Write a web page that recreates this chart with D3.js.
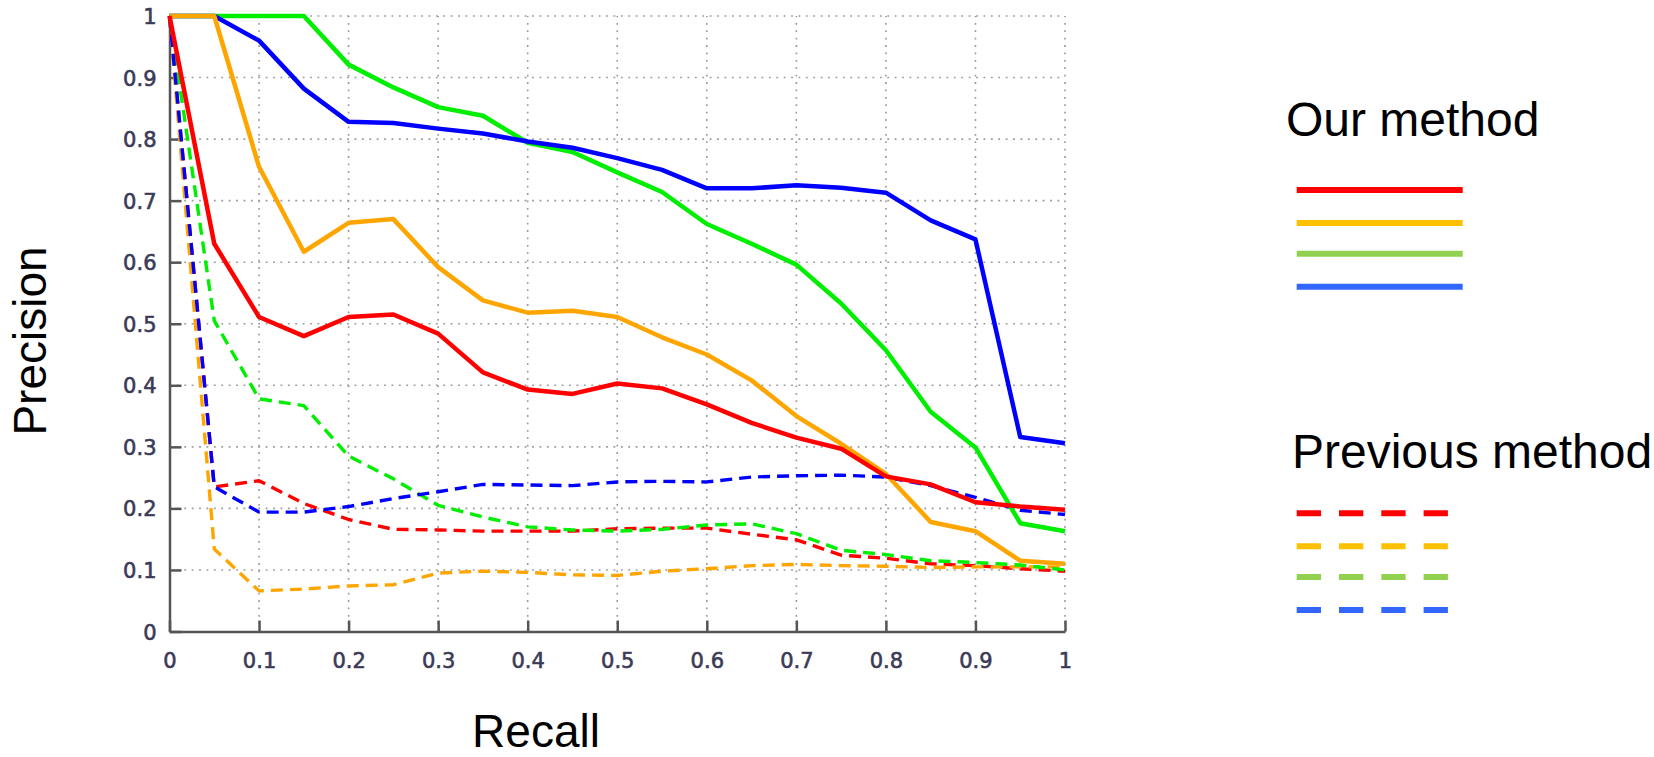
<!DOCTYPE html>
<html>
<head>
<meta charset="utf-8">
<script src="https://cdn.jsdelivr.net/npm/d3@7"></script>
<style>
  html, body { margin: 0; padding: 0; background: #fff; }
  svg { display: block; }
</style>
</head>
<body>
<svg id="chart" width="1654" height="757"></svg>
<script>
// Recall sample points shared by all curves
const recall = [0, 0.05, 0.1, 0.15, 0.2, 0.25, 0.3, 0.35, 0.4, 0.45, 0.5,
                0.55, 0.6, 0.65, 0.7, 0.75, 0.8, 0.85, 0.9, 0.95, 1];

// Our method (solid curves)
const oursRed    = [1, 0.630, 0.511, 0.480, 0.511, 0.515, 0.484, 0.421, 0.393, 0.386, 0.403,
                    0.395, 0.369, 0.339, 0.315, 0.297, 0.252, 0.239, 0.210, 0.203, 0.198];
const oursOrange = [1, 1, 0.755, 0.617, 0.664, 0.670, 0.592, 0.538, 0.518, 0.521, 0.511,
                    0.478, 0.450, 0.408, 0.350, 0.305, 0.256, 0.178, 0.163, 0.115, 0.110];
const oursGreen  = [1, 1, 1, 1, 0.921, 0.884, 0.852, 0.838, 0.794, 0.779, 0.746,
                    0.714, 0.662, 0.630, 0.596, 0.533, 0.457, 0.357, 0.299, 0.176, 0.163];
const oursBlue   = [1, 1, 0.960, 0.882, 0.828, 0.826, 0.817, 0.809, 0.796, 0.786, 0.769,
                    0.750, 0.720, 0.720, 0.725, 0.721, 0.713, 0.668, 0.637, 0.316, 0.306];

// Previous method (dashed curves)
const prevRed    = [1, 0.235, 0.245, 0.208, 0.182, 0.166, 0.165, 0.163, 0.163, 0.163, 0.167,
                    0.168, 0.168, 0.158, 0.149, 0.124, 0.119, 0.110, 0.107, 0.102, 0.098];
const prevOrange = [1, 0.134, 0.066, 0.069, 0.074, 0.076, 0.095, 0.098, 0.096, 0.092, 0.091,
                    0.098, 0.102, 0.107, 0.109, 0.107, 0.106, 0.104, 0.105, 0.105, 0.105];
const prevGreen  = [1, 0.505, 0.378, 0.367, 0.285, 0.248, 0.205, 0.186, 0.170, 0.165, 0.163,
                    0.166, 0.173, 0.175, 0.159, 0.132, 0.125, 0.115, 0.112, 0.108, 0.100];
const prevBlue   = [1, 0.235, 0.194, 0.194, 0.203, 0.216, 0.227, 0.239, 0.238, 0.237, 0.243,
                    0.244, 0.243, 0.251, 0.253, 0.254, 0.251, 0.237, 0.218, 0.197, 0.190];

const xTickLabels = ["0", "0.1", "0.2", "0.3", "0.4", "0.5", "0.6", "0.7", "0.8", "0.9", "1"];
const yTickLabels = ["0", "0.1", "0.2", "0.3", "0.4", "0.5", "0.6", "0.7", "0.8", "0.9", "1"];

const legendGroups = ["Our method", "Previous method"];
const legendColors = ["#ff0000", "#ffc000", "#92d050", "#3366ff"];

const svg = d3.select("#chart");

const x = d3.scaleLinear().domain([0, 1]).range([169.5, 1065]);
const y = d3.scaleLinear().domain([0, 1]).range([631.5, 16]);

const xTicks = xTickLabels.map(Number);
const yTicks = yTickLabels.map(Number);

// Dotted grid
const grid = svg.append("g")
  .attr("stroke", "#9a9a9a")
  .attr("stroke-width", 1.6)
  .attr("stroke-dasharray", "1.8,5.6");
grid.selectAll("line.v").data(xTicks.filter(d => d > 0)).join("line")
  .attr("class", "v")
  .attr("x1", d => x(d)).attr("x2", d => x(d))
  .attr("y1", y(0)).attr("y2", y(1));
grid.selectAll("line.h").data(yTicks.filter(d => d > 0)).join("line")
  .attr("class", "h")
  .attr("x1", x(0)).attr("x2", x(1))
  .attr("y1", d => y(d)).attr("y2", d => y(d));

// Axes with inward ticks
const tickFont = g => g.selectAll("text")
  .attr("font-family", "DejaVu Sans, sans-serif")
  .attr("font-size", 21)
  .attr("fill", "#3b3b58")
  .attr("stroke", "#3b3b58")
  .attr("stroke-width", 0.6);

const yAxis = svg.append("g")
  .attr("transform", `translate(${x(0)},0)`)
  .call(d3.axisLeft(y).tickValues(yTicks)
    .tickFormat((d, i) => yTickLabels[i])
    .tickSizeInner(-12).tickSizeOuter(0).tickPadding(13));
const xAxis = svg.append("g")
  .attr("transform", `translate(0,${y(0)})`)
  .call(d3.axisBottom(x).tickValues(xTicks)
    .tickFormat((d, i) => xTickLabels[i])
    .tickSizeInner(-11).tickSizeOuter(0).tickPadding(22));

[xAxis, yAxis].forEach(a => {
  a.select(".domain").attr("stroke", "#555").attr("stroke-width", 2.5);
  a.selectAll(".tick line").attr("stroke", "#555").attr("stroke-width", 2.5);
  a.call(tickFont);
});
yAxis.selectAll(".tick text").attr("dy", "0.36em");

// Curves
const line = d3.line().x((d, i) => x(recall[i])).y(d => y(d));

const dashed = [
  { values: prevRed,    color: "#ff0000" },
  { values: prevOrange, color: "#ffa500" },
  { values: prevGreen,  color: "#00ee00" },
  { values: prevBlue,   color: "#0000ff" }
];
const solid = [
  { values: oursGreen,  color: "#00ee00" },
  { values: oursBlue,   color: "#0000ff" },
  { values: oursOrange, color: "#ffa500" },
  { values: oursRed,    color: "#ff0000" }
];

svg.append("g").selectAll("path").data(dashed).join("path")
  .attr("d", d => line(d.values))
  .attr("fill", "none")
  .attr("stroke", d => d.color)
  .attr("stroke-width", 3.4)
  .attr("stroke-dasharray", "12,7")
  .attr("stroke-linejoin", "round");

svg.append("g").selectAll("path").data(solid).join("path")
  .attr("d", d => line(d.values))
  .attr("fill", "none")
  .attr("stroke", d => d.color)
  .attr("stroke-width", 4.5)
  .attr("stroke-linejoin", "round");

// Axis titles
svg.append("text")
  .attr("x", 536).attr("y", 747)
  .attr("text-anchor", "middle")
  .attr("font-family", "Liberation Sans, Arial, sans-serif")
  .attr("font-size", 46)
  .attr("fill", "#000")
  .text("Recall");

svg.append("text")
  .attr("transform", "translate(46,341) rotate(-90)")
  .attr("text-anchor", "middle")
  .attr("font-family", "Liberation Sans, Arial, sans-serif")
  .attr("font-size", 46)
  .attr("fill", "#000")
  .text("Precision");

// Legend
const legend = svg.append("g")
  .attr("font-family", "Liberation Sans, Arial, sans-serif")
  .attr("font-size", 48)
  .attr("fill", "#000");

legend.append("text").attr("x", 1286).attr("y", 136).text(legendGroups[0]);
legend.append("text").attr("x", 1292).attr("y", 467.5).text(legendGroups[1]);

const solidRows = [190, 223, 253.7, 286.7];
const dashRows = [513.3, 546.3, 577, 610];

legend.selectAll("line.s").data(legendColors).join("line")
  .attr("class", "s")
  .attr("x1", 1296.7).attr("x2", 1462.7)
  .attr("y1", (d, i) => solidRows[i]).attr("y2", (d, i) => solidRows[i])
  .attr("stroke", d => d).attr("stroke-width", 6);

legend.selectAll("line.d").data(legendColors).join("line")
  .attr("class", "d")
  .attr("x1", 1296.7).attr("x2", 1449)
  .attr("y1", (d, i) => dashRows[i]).attr("y2", (d, i) => dashRows[i])
  .attr("stroke", d => d).attr("stroke-width", 6)
  .attr("stroke-dasharray", "24.3,18");
</script>
</body>
</html>
